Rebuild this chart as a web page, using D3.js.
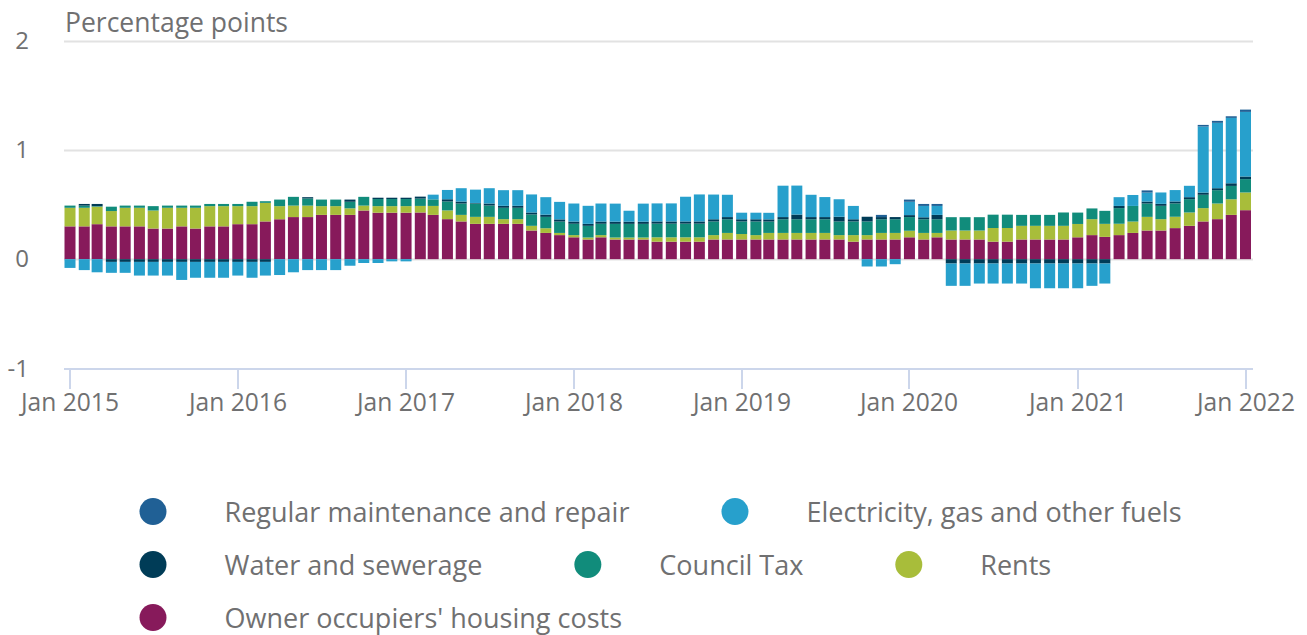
<!DOCTYPE html>
<html>
<head>
<meta charset="utf-8">
<script src="https://cdn.jsdelivr.net/npm/d3@7"></script>
<style>
  html, body { margin: 0; padding: 0; background: #fff; }
  svg { display: block; font-family: "Open Sans", sans-serif; }
</style>
</head>
<body>
<svg id="chart" width="1307" height="635"></svg>
<script>
// ---------------- DATA ----------------
const seriesNames = [
  "Regular maintenance and repair",
  "Electricity, gas and other fuels",
  "Water and sewerage",
  "Council Tax",
  "Rents",
  "Owner occupiers' housing costs"
];
const seriesColors = ["#206095", "#27a0cc", "#003c57", "#118c7b", "#a8bd3a", "#871a5b"];
const yTicks = [-1, 0, 1, 2];
const xTickLabels = ["Jan 2015", "Jan 2016", "Jan 2017", "Jan 2018", "Jan 2019", "Jan 2020", "Jan 2021", "Jan 2022"];
const yAxisTitle = "Percentage points";

const ownerOccupiers = [
  0.30, 0.30, 0.32, 0.30, 0.30, 0.30, 0.28, 0.28, 0.30, 0.28, 0.30, 0.30, 0.32,
  0.32, 0.345, 0.365, 0.385, 0.385, 0.405, 0.405, 0.405, 0.445, 0.425, 0.425, 0.425,
  0.427, 0.405, 0.366, 0.345, 0.323, 0.323, 0.323, 0.323, 0.262, 0.24, 0.22, 0.20,
  0.18, 0.20, 0.18, 0.18, 0.18, 0.16, 0.16, 0.16, 0.16, 0.18, 0.18, 0.18,
  0.18, 0.18, 0.18, 0.18, 0.18, 0.18, 0.18, 0.16, 0.18, 0.18, 0.18,
  0.20, 0.18, 0.20, 0.18, 0.18, 0.18, 0.16, 0.16, 0.18, 0.18, 0.18, 0.18, 0.20,
  0.22, 0.204, 0.22, 0.24, 0.262, 0.262, 0.284, 0.305, 0.345, 0.366, 0.405, 0.448
];
const rents = [
  0.17, 0.17, 0.16, 0.14, 0.17, 0.17, 0.165, 0.19, 0.17, 0.19, 0.185, 0.185, 0.165,
  0.165, 0.17, 0.12, 0.105, 0.105, 0.08, 0.08, 0.06, 0.045, 0.06, 0.06, 0.06,
  0.06, 0.082, 0.08, 0.06, 0.064, 0.064, 0.043, 0.043, 0.043, 0.043, 0.02, 0.02,
  0.018, 0.02, 0.018, 0.018, 0.018, 0.04, 0.04, 0.04, 0.04, 0.04, 0.06, 0.05,
  0.04, 0.06, 0.06, 0.06, 0.06, 0.06, 0.04, 0.06, 0.04, 0.06, 0.06,
  0.06, 0.06, 0.04, 0.082, 0.082, 0.082, 0.125, 0.125, 0.125, 0.125, 0.125, 0.125, 0.122,
  0.146, 0.119, 0.104, 0.104, 0.125, 0.104, 0.104, 0.122, 0.122, 0.143, 0.143, 0.162
];
const councilTax = [
  0.02, 0.02, 0.005, 0.04, 0.02, 0.02, 0.04, 0.02, 0.02, 0.02, 0.02, 0.02, 0.02,
  0.04, 0.015, 0.06, 0.08, 0.065, 0.06, 0.06, 0.06, 0.08, 0.065, 0.065, 0.065,
  0.067, 0.06, 0.082, 0.104, 0.122, 0.104, 0.104, 0.104, 0.104, 0.104, 0.104, 0.104,
  0.107, 0.104, 0.125, 0.125, 0.125, 0.125, 0.125, 0.125, 0.125, 0.125, 0.125, 0.115,
  0.125, 0.104, 0.125, 0.125, 0.125, 0.125, 0.125, 0.125, 0.125, 0.125, 0.125,
  0.125, 0.125, 0.125, 0.122, 0.122, 0.122, 0.122, 0.122, 0.10, 0.10, 0.10, 0.122, 0.104,
  0.098, 0.119, 0.143, 0.143, 0.122, 0.122, 0.122, 0.122, 0.122, 0.122, 0.122, 0.122
];
const waterSewerage = [
  0, 0.015, 0.02, -0.025, -0.025, -0.025, -0.025, -0.025, -0.025, -0.025, -0.025, -0.025, -0.025,
  -0.025, -0.025, 0, 0, 0.012, 0, 0, 0.02, 0, 0.012, 0.012, 0.012,
  0.018, 0, 0.02, 0.018, 0.005, 0.018, 0.018, 0.018, 0.018, 0.02, 0.02, 0.02,
  0.018, 0.02, 0.02, 0.02, 0.02, 0.02, 0.02, 0.02, 0.02, 0.02, 0.02, 0.02,
  0.02, 0.02, 0.02, 0.043, 0.02, 0.02, 0.043, 0.02, 0.043, 0.02, 0.02,
  0.018, 0.018, 0.04, -0.04, -0.04, -0.04, -0.04, -0.04, -0.04, -0.04, -0.04, -0.04, -0.04,
  -0.04, -0.04, 0.02, 0, 0.018, 0.018, 0.018, 0.018, 0.02, 0.018, 0.024, 0.024
];
const electricityGas = [
  -0.08, -0.10, -0.12, -0.10, -0.10, -0.125, -0.125, -0.125, -0.165, -0.145, -0.145, -0.145, -0.125,
  -0.145, -0.125, -0.145, -0.12, -0.10, -0.10, -0.10, -0.06, -0.035, -0.035, -0.02, -0.02,
  0, 0.043, 0.085, 0.122, 0.122, 0.14, 0.143, 0.143, 0.165, 0.16, 0.16, 0.165,
  0.165, 0.165, 0.165, 0.10, 0.165, 0.165, 0.165, 0.226, 0.247, 0.226, 0.204, 0.06,
  0.06, 0.06, 0.287, 0.265, 0.204, 0.183, 0.16, 0.122, -0.067, -0.067, -0.046,
  0.122, 0.104, 0.082, -0.204, -0.204, -0.183, -0.183, -0.183, -0.183, -0.226, -0.226, -0.226, -0.226,
  -0.204, -0.183, 0.08, 0.10, 0.082, 0.104, 0.104, 0.104, 0.604, 0.598, 0.598, 0.591
];
const maintenance = [
  0, 0, 0, 0, 0, 0, 0, 0, 0, 0, 0, 0, 0,
  0, 0, 0, 0, 0, 0, 0, 0, 0, 0, 0, 0,
  0, 0, 0, 0, 0, 0, 0, 0, 0, 0, 0, 0,
  0, 0, 0, 0, 0, 0, 0, 0, 0, 0, 0, 0,
  0, 0, 0, 0, 0, 0, 0, 0, 0, 0.02, 0,
  0.02, 0.018, 0.018, 0, 0, 0, 0, 0, 0, 0, 0, 0, 0,
  0, 0, 0, 0, 0.02, 0, 0, 0, 0.015, 0.018, 0.015, 0.021
];

// ---------------- BUILD ----------------
const months = d3.timeMonths(new Date(2015, 0, 1), new Date(2022, 1, 1)); // Jan 2015 .. Jan 2022
const seriesValues = [maintenance, electricityGas, waterSewerage, councilTax, rents, ownerOccupiers];
const table = months.map((m, i) => {
  const row = { date: m };
  seriesNames.forEach((n, k) => row[n] = seriesValues[k][i]);
  return row;
});
// stack order bottom -> top is reverse of legend order
const stackKeys = seriesNames.slice().reverse();
const colorOf = d3.scaleOrdinal().domain(seriesNames).range(seriesColors);
const stacked = d3.stack().keys(stackKeys).offset(d3.stackOffsetDiverging)(table);

const svg = d3.select("#chart");
const plotLeft = 64, plotRight = 1253;
const x = d3.scaleTime()
  .domain([new Date(2015, 0, 1), new Date(2022, 0, 1)])
  .range([70, 1245.5]);
const y = d3.scaleLinear().domain([-1, 2]).range([368.5, 40.5]);
const textColor = "#707071";

// gridlines
svg.append("g").selectAll("line")
  .data(yTicks.filter(t => t !== -1))
  .join("line")
  .attr("x1", plotLeft).attr("x2", plotRight)
  .attr("y1", d => Math.round(y(d)) + 0.5).attr("y2", d => Math.round(y(d)) + 0.5)
  .attr("stroke", "#e2e2e2").attr("stroke-width", 2);

// y labels
svg.append("g").selectAll("text")
  .data(yTicks)
  .join("text")
  .attr("x", 29).attr("y", d => y(d) + 8)
  .attr("text-anchor", "end")
  .attr("fill", textColor)
  .style("font-size", "24px")
  .text(d => d);

// y axis title
svg.append("text")
  .attr("x", 65).attr("y", 32)
  .attr("fill", textColor)
  .style("font-size", "26.5px")
  .text(yAxisTitle);

// bars
const barW = 11;
svg.append("g").selectAll("g")
  .data(stacked)
  .join("g")
  .attr("fill", d => colorOf(d.key))
  .selectAll("rect")
  .data(d => d.filter(p => p[1] - p[0] !== 0))
  .join("rect")
  .attr("x", d => x(d.data.date) - barW / 2)
  .attr("width", barW)
  .attr("y", d => y(Math.max(d[0], d[1])))
  .attr("height", d => Math.abs(y(d[0]) - y(d[1])));

// x axis
const xTickDates = d3.timeYears(new Date(2015, 0, 1), new Date(2022, 1, 1));
const axisColor = "#ccd6eb";
svg.append("line")
  .attr("x1", plotLeft).attr("x2", plotRight)
  .attr("y1", 369).attr("y2", 369)
  .attr("stroke", axisColor).attr("stroke-width", 2);
const xt = svg.append("g").selectAll("g").data(xTickDates).join("g")
  .attr("transform", d => `translate(${Math.round(x(d))},0)`);
xt.append("line").attr("y1", 369).attr("y2", 389)
  .attr("stroke", axisColor).attr("stroke-width", 2);
xt.append("text")
  .attr("y", 411)
  .attr("text-anchor", "middle")
  .attr("fill", textColor)
  .style("font-size", "24.6px")
  .text((d, i) => xTickLabels[i]);

// legend (flow layout)
const legend = svg.append("g");
const legendStartX = 139.5, legendMaxX = 1230, rowH = 53, firstRowY = 511.5;
let lx = legendStartX, ly = firstRowY;
seriesNames.forEach((name, i) => {
  const g = legend.append("g");
  const t = g.append("text")
    .attr("fill", textColor)
    .style("font-size", "27px")
    .attr("dy", "0.35em")
    .text(name);
  const tw = t.node().getComputedTextLength();
  if (lx !== legendStartX && lx + 85 + tw > legendMaxX) {
    lx = legendStartX; ly += rowH;
  }
  g.append("circle").attr("cx", lx + 13.5).attr("cy", ly).attr("r", 13.5)
    .attr("fill", seriesColors[i]);
  t.attr("x", lx + 85).attr("y", ly + 1);
  lx = lx + 85 + tw + 92;
});
</script>
</body>
</html>
